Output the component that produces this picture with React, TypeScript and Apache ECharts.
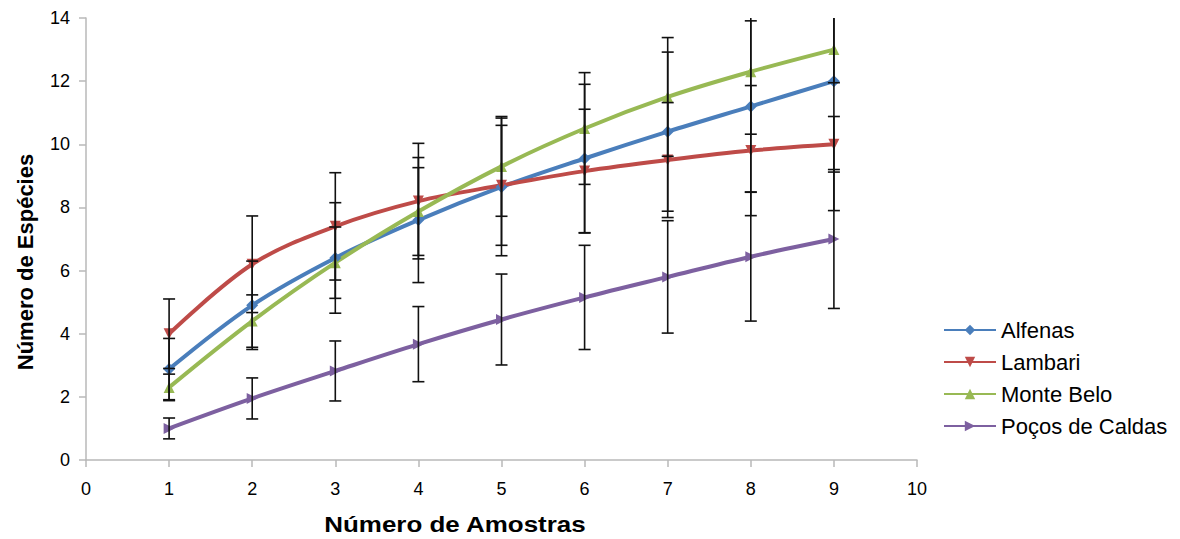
import React, { useEffect, useRef } from "react";
import * as echarts from "echarts";

const samples = [1, 2, 3, 4, 5, 6, 7, 8, 9];
const seriesNames = ["Alfenas", "Lambari", "Monte Belo", "Poços de Caldas"];
const alfenas = [2.88, 4.9, 6.4, 7.6, 8.65, 9.55, 10.4, 11.2, 12.0];
const alfenasErr = [0.97, 1.4, 1.75, 1.98, 2.18, 2.35, 2.52, 2.71, 4.1];
const lambari = [4.0, 6.2, 7.4, 8.2, 8.7, 9.15, 9.5, 9.8, 10.0];
const lambariErr = [1.1, 1.53, 1.7, 1.83, 1.9, 1.96, 1.82, 2.06, 0.88];
const monteBelo = [2.3, 4.4, 6.25, 7.87, 9.3, 10.5, 11.5, 12.3, 13.0];
const monteBeloErr = [0.42, 0.83, 1.13, 1.39, 1.58, 1.77, 1.88, 1.98, 1.05];
const pocos = [1.0, 1.95, 2.82, 3.67, 4.45, 5.15, 5.8, 6.44, 7.0];
const pocosErr = [0.33, 0.65, 0.95, 1.19, 1.44, 1.65, 1.78, 2.04, 2.2];

const colors = ["#4A7EBB", "#BE4B48", "#98B954", "#7D60A0"];
const symbols = ["diamond", "triangle", "triangle", "triangle"];
const symbolRotates = [0, 180, 0, -90];

const FONT = '"Liberation Sans", Arial, sans-serif';

export default function App() {
  const ref = useRef<HTMLDivElement>(null);
  useEffect(() => {
    document.body.style.margin = "0";
    const chart = echarts.init(ref.current!, null, { renderer: "svg" });
    const values = [alfenas, lambari, monteBelo, pocos];
    const errs = [alfenasErr, lambariErr, monteBeloErr, pocosErr];

    const lineSeries = values.map((vals, i) => ({
      name: seriesNames[i],
      type: "line",
      smooth: 0.35,
      data: samples.map((x, j) => [x, vals[j]]),
      symbol: symbols[i],
      symbolRotate: symbolRotates[i],
      symbolSize: i === 0 ? 12 : 11,
      showSymbol: true,
      lineStyle: { color: colors[i], width: 4 },
      itemStyle: { color: colors[i] },
      z: 2,
    }));

    const errSeries = values.map((vals, i) => ({
      name: seriesNames[i] + " err",
      type: "custom",
      clip: true,
      z: 5,
      encode: { x: 0, y: [1, 2] },
      data: samples.map((x, j) => [x, vals[j] - errs[i][j], vals[j] + errs[i][j]]),
      renderItem: (params: any, api: any) => {
        const x = api.value(0);
        const top = api.coord([x, api.value(2)]);
        const bot = api.coord([x, api.value(1)]);
        const hw = 6;
        const st = { stroke: "#111", lineWidth: 1.6 };
        return {
          type: "group",
          children: [
            { type: "line", shape: { x1: top[0], y1: top[1], x2: bot[0], y2: bot[1] }, style: st },
            { type: "line", shape: { x1: top[0] - hw, y1: top[1], x2: top[0] + hw, y2: top[1] }, style: st },
            { type: "line", shape: { x1: bot[0] - hw, y1: bot[1], x2: bot[0] + hw, y2: bot[1] }, style: st },
          ],
        };
      },
    }));

    chart.setOption({
      animation: false,
      backgroundColor: "#ffffff",
      grid: { left: 86, right: 263, top: 18, bottom: 79, containLabel: false },
      xAxis: {
        type: "value",
        min: 0,
        max: 10,
        interval: 1,
        splitLine: { show: false },
        axisLine: { show: true, onZero: false, lineStyle: { color: "#b8b8b8", width: 1.5 } },
        axisTick: { show: true, length: 7, lineStyle: { color: "#b8b8b8", width: 1.5 } },
        axisLabel: { color: "#000", fontSize: 18, fontFamily: FONT, margin: 20 },
      },
      yAxis: {
        type: "value",
        min: 0,
        max: 14,
        interval: 2,
        splitLine: { show: false },
        axisLine: { show: true, lineStyle: { color: "#b8b8b8", width: 1.5 } },
        axisTick: { show: true, length: 7, lineStyle: { color: "#b8b8b8", width: 1.5 } },
        axisLabel: { color: "#000", fontSize: 18, fontFamily: FONT, margin: 16 },
      },
      legend: {
        data: seriesNames,
        orient: "vertical",
        left: 938,
        top: 313,
        itemWidth: 52,
        itemHeight: 13,
        itemGap: 8,
        textStyle: { color: "#000", fontSize: 22, fontFamily: FONT, lineHeight: 24, padding: [0, 0, 0, 0] },
      },
      graphic: [
        {
          type: "text",
          x: 455,
          y: 524,
          scaleX: 1.18,
          style: {
            text: "Número de Amostras",
            font: 'bold 22px "Liberation Sans", Arial, sans-serif',
            fill: "#000",
            textAlign: "center",
            textVerticalAlign: "middle",
          },
        },
        {
          type: "text",
          x: 25,
          y: 262,
          rotation: Math.PI / 2,
          style: {
            text: "Número de Espécies",
            font: 'bold 22px "Liberation Sans", Arial, sans-serif',
            fill: "#000",
            textAlign: "center",
            textVerticalAlign: "middle",
          },
        },
      ],
      series: [...lineSeries, ...errSeries],
    });
    return () => chart.dispose();
  }, []);
  return <div ref={ref} style={{ width: 1180, height: 539 }} />;
}
